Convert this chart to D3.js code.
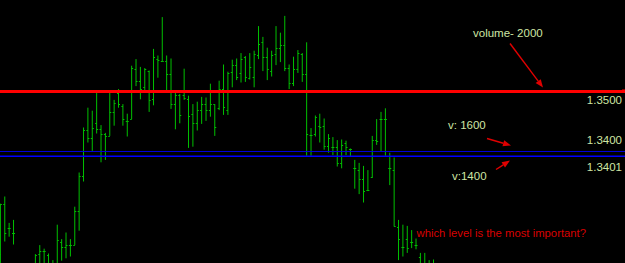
<!DOCTYPE html>
<html>
<head>
<meta charset="utf-8">
<script src="https://cdn.jsdelivr.net/npm/d3@7"></script>
<style>
  html, body { margin: 0; padding: 0; background: #000; overflow: hidden; }
  svg { display: block; }
  text { font-family: "Liberation Sans", Arial, sans-serif; }
</style>
</head>
<body>
<svg id="chart" width="625" height="263"></svg>
<script>
// ---- data (OHLC bars) ----
const open = [1.3230,1.3313,1.3272,1.3264,1.3197,1.3180,1.3164,1.3175,1.3203,1.3229,
  1.3235,1.3228,1.3214,1.3211,1.3250,1.3241,1.3244,1.3245,1.3301,1.3359,
  1.3436,1.3423,1.3447,1.3437,1.3429,1.3426,1.3466,1.3497,1.3476,1.3451,
  1.3455,1.3537,1.3518,1.3507,1.3534,1.3488,1.3555,1.3551,1.3551,1.3529,
  1.3479,1.3494,1.3494,1.3488,1.3462,1.3447,1.3470,1.3479,1.3469,1.3479,
  1.3472,1.3505,1.3470,1.3533,1.3544,1.3531,1.3557,1.3523,1.3525,1.3560,
  1.3582,1.3558,1.3535,1.3562,1.3572,1.3578,1.3539,1.3514,1.3537,1.3563,
  1.3529,1.3427,1.3430,1.3443,1.3443,1.3409,1.3407,1.3407,1.3381,1.3415,
  1.3404,1.3372,1.3370,1.3355,1.3336,1.3358,1.3420,1.3455,1.3455,1.3372,
  1.3370,1.3275,1.3241,1.3254,1.3250,1.3244,1.3225,1.3214,1.3203,1.3191];
const high = [1.3313,1.3325,1.3281,1.3286,1.3203,1.3191,1.3186,1.3208,1.3229,1.3244,
  1.3238,1.3230,1.3219,1.3278,1.3254,1.3265,1.3254,1.3308,1.3365,1.3440,
  1.3473,1.3468,1.3498,1.3444,1.3431,1.3498,1.3486,1.3504,1.3479,1.3463,
  1.3543,1.3554,1.3541,1.3539,1.3535,1.3571,1.3560,1.3624,1.3560,1.3555,
  1.3498,1.3496,1.3538,1.3493,1.3479,1.3483,1.3491,1.3490,1.3513,1.3479,
  1.3518,1.3545,1.3533,1.3553,1.3555,1.3564,1.3559,1.3564,1.3568,1.3609,
  1.3591,1.3573,1.3568,1.3609,1.3598,1.3626,1.3545,1.3558,1.3569,1.3564,
  1.3582,1.3439,1.3460,1.3463,1.3455,1.3429,1.3424,1.3419,1.3420,1.3418,
  1.3405,1.3386,1.3381,1.3376,1.3369,1.3426,1.3454,1.3466,1.3472,1.3398,
  1.3390,1.3286,1.3278,1.3276,1.3269,1.3255,1.3231,1.3231,1.3219,1.3220];
const low = [1.3197,1.3250,1.3258,1.3245,1.3169,1.3153,1.3153,1.3169,1.3191,1.3197,
  1.3203,1.3197,1.3180,1.3208,1.3218,1.3222,1.3225,1.3244,1.3268,1.3350,
  1.3415,1.3401,1.3430,1.3382,1.3386,1.3426,1.3443,1.3473,1.3443,1.3425,
  1.3454,1.3509,1.3487,1.3501,1.3466,1.3477,1.3523,1.3550,1.3501,1.3471,
  1.3437,1.3447,1.3486,1.3406,1.3408,1.3435,1.3446,1.3451,1.3458,1.3426,
  1.3469,1.3461,1.3461,1.3507,1.3519,1.3515,1.3516,1.3520,1.3507,1.3554,
  1.3534,1.3519,1.3525,1.3544,1.3549,1.3534,1.3504,1.3509,1.3531,1.3516,
  1.3393,1.3393,1.3425,1.3415,1.3403,1.3398,1.3394,1.3375,1.3372,1.3394,
  1.3391,1.3338,1.3329,1.3315,1.3334,1.3356,1.3411,1.3400,1.3393,1.3344,
  1.3275,1.3219,1.3225,1.3231,1.3239,1.3237,1.3197,1.3191,1.3180,1.3180];
const close = [1.3313,1.3264,1.3272,1.3265,1.3180,1.3164,1.3175,1.3203,1.3228,1.3235,
  1.3235,1.3214,1.3208,1.3253,1.3241,1.3245,1.3244,1.3301,1.3359,1.3436,
  1.3423,1.3440,1.3437,1.3429,1.3426,1.3466,1.3481,1.3479,1.3454,1.3451,
  1.3539,1.3518,1.3505,1.3537,1.3486,1.3557,1.3553,1.3551,1.3529,1.3479,
  1.3494,1.3461,1.3489,1.3460,1.3447,1.3469,1.3479,1.3469,1.3479,1.3441,
  1.3505,1.3474,1.3531,1.3545,1.3525,1.3555,1.3525,1.3541,1.3563,1.3580,
  1.3558,1.3537,1.3560,1.3572,1.3578,1.3539,1.3514,1.3537,1.3564,1.3529,
  1.3429,1.3427,1.3458,1.3441,1.3409,1.3422,1.3407,1.3381,1.3411,1.3408,
  1.3404,1.3372,1.3355,1.3334,1.3336,1.3419,1.3418,1.3455,1.3455,1.3372,
  1.3276,1.3254,1.3241,1.3240,1.3250,1.3244,1.3208,1.3203,1.3191,1.3197];

// horizontal levels
const levelPrices = [1.3500, 1.3400, 1.3392];
const levelLabels = ["1.3500", "1.3400", "1.3401"];
const levelNames  = ["volume- 2000", "v: 1600", "v:1400"];
const question = "which level is the most important?";

// ---- layout / style ----
const W = 625, H = 263;
const GREEN = "#00c000";
const TEXT = "#cfe6a4";
const levelStyle = [
  {color: "#ff0000", width: 3,   labelDy: 12.5},
  {color: "#0000d8", width: 1,   labelDy: -7.5},
  {color: "#0000ff", width: 1.6, labelDy: 15}
];

const svg = d3.select("#chart");
svg.append("rect").attr("width", W).attr("height", H).attr("fill", "#000");

const idx = d3.range(open.length);
const x = d3.scaleLinear().domain([0, open.length - 1]).range([0.4, 0.4 + 99 * 4.375]);
const y = d3.scaleLinear().domain([1.3400, 1.3500]).range([151.5, 91.5]);

const bars = svg.append("g");
// high-low lines
bars.selectAll("line.hl").data(idx).join("line")
  .attr("class", "hl")
  .attr("x1", i => x(i)).attr("x2", i => x(i))
  .attr("y1", i => y(high[i])).attr("y2", i => y(low[i]))
  .attr("stroke", GREEN).attr("stroke-width", 1);
// open ticks (left)
bars.selectAll("line.op").data(idx).join("line")
  .attr("class", "op")
  .attr("x1", i => x(i) - 1.5).attr("x2", i => x(i))
  .attr("y1", i => Math.round(y(open[i])) + 0.5).attr("y2", i => Math.round(y(open[i])) + 0.5)
  .attr("stroke", GREEN).attr("stroke-width", 1);
// close ticks (right)
bars.selectAll("line.cl").data(idx).join("line")
  .attr("class", "cl")
  .attr("x1", i => x(i)).attr("x2", i => x(i) + 1.5)
  .attr("y1", i => Math.round(y(close[i])) + 0.5).attr("y2", i => Math.round(y(close[i])) + 0.5)
  .attr("stroke", GREEN).attr("stroke-width", 1);

// level lines
const lv = svg.append("g");
levelPrices.forEach((p, k) => {
  lv.append("line")
    .attr("x1", 0).attr("x2", W)
    .attr("y1", y(p)).attr("y2", y(p))
    .attr("stroke", levelStyle[k].color).attr("stroke-width", levelStyle[k].width);
  lv.append("text")
    .attr("x", 622).attr("y", y(p) + levelStyle[k].labelDy)
    .attr("text-anchor", "end")
    .attr("font-size", "11.5px")
    .attr("fill", TEXT)
    .text(levelLabels[k]);
});
// small marker at the end of the red line
lv.append("rect").attr("x", 622).attr("y", y(levelPrices[0]) - 2)
  .attr("width", 3).attr("height", 3.5).attr("fill", "#ff0000");

// annotation texts
const notes = [
  {t: levelNames[0], x: 473, y: y(levelPrices[0]) - 54.5},
  {t: levelNames[1], x: 448, y: y(levelPrices[1]) - 22.5},
  {t: levelNames[2], x: 452, y: y(levelPrices[2]) + 24}
];
notes.forEach(n => svg.append("text")
  .attr("x", n.x).attr("y", n.y)
  .attr("font-size", "11.5px").attr("fill", TEXT).text(n.t));

svg.append("text").attr("x", 416.5).attr("y", 237)
  .attr("font-size", "11.3px").attr("fill", "#d80000").text(question);

// arrows
function arrow(x1, y1, x2, y2) {
  const ang = Math.atan2(y2 - y1, x2 - x1);
  const L = 8, Wd = 3.2;
  const bx = x2 - L * Math.cos(ang), by = y2 - L * Math.sin(ang);
  svg.append("line").attr("x1", x1).attr("y1", y1).attr("x2", bx).attr("y2", by)
    .attr("stroke", "#e00000").attr("stroke-width", 1.4);
  const px = -Math.sin(ang) * Wd, py = Math.cos(ang) * Wd;
  svg.append("path")
    .attr("d", `M${x2},${y2}L${bx + px},${by + py}L${bx - px},${by - py}Z`)
    .attr("fill", "#e00000");
}
arrow(510, 43.5, 543, 87.5);
arrow(487, 138.5, 511, 145.5);
arrow(496, 169.5, 510, 160.5);
</script>
</body>
</html>
